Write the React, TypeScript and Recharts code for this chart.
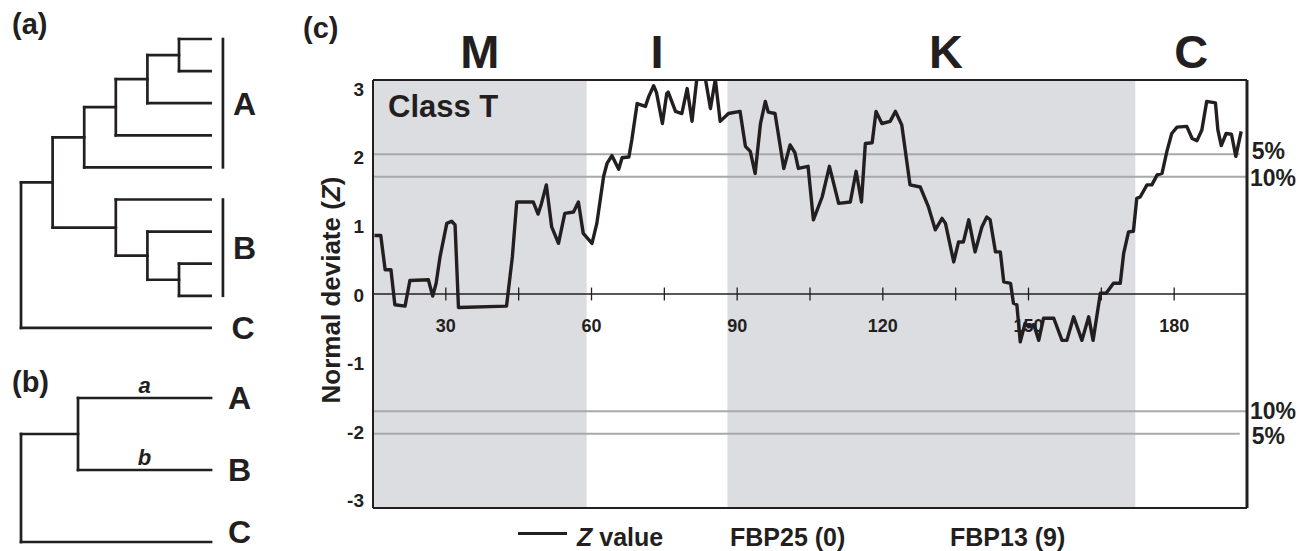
import React from "react";
import {
  ComposedChart,
  Line,
  XAxis,
  YAxis,
  ReferenceLine,
  ReferenceArea,
  ReferenceDot,
} from "recharts";

const FONT = '"Liberation Sans", Arial, Helvetica, sans-serif';
const INK = "#231f20";
const GRID = "#a7a9ac";
const SHADE = "#dcdde0";

// ---- panel (c): sliding window Z along the alignment ----
const positions = [
  15.3, 16.6, 17.5, 18.7, 19.5, 21.6, 22.6, 26.4, 27.3, 28.0, 28.8, 30.2, 31.2, 31.9, 32.6,
  42.5, 43.7, 44.6, 48.0, 49.0, 49.7, 50.7, 51.8, 53.2, 54.5, 56.3, 57.3, 58.3, 60.1, 61.1,
  62.5, 63.2, 64.2, 65.6, 66.3, 67.7, 68.3, 69.4, 71.1, 71.8, 72.8, 73.4, 74.6, 75.5, 75.8,
  77.3, 78.6, 79.7, 80.7, 81.7, 83.4, 84.5, 85.5, 86.5, 88.2, 90.6, 91.7, 92.7, 93.7, 94.8,
  95.8, 96.4, 97.8, 99.6, 100.9, 101.9, 102.6, 104.6, 105.7, 107.5, 109.0, 110.9, 113.3,
  114.5, 115.6, 116.4, 117.8, 118.6, 119.8, 121.5, 122.6, 123.9, 125.6, 127.7, 129.4, 130.8,
  132.2, 132.9, 134.6, 135.6, 136.6, 137.7, 139.0, 140.4, 141.4, 142.1, 143.2, 144.2, 144.9,
  146.3, 146.9, 147.6, 148.3, 149.3, 150.0, 151.1, 152.1, 153.1, 155.2, 156.9, 157.9, 159.3,
  161.0, 162.4, 163.3, 164.8, 166.0, 167.5, 168.9, 169.6, 170.6, 171.6, 172.3, 173.0, 174.4,
  175.4, 176.5, 177.5, 178.5, 179.5, 180.6, 182.6, 183.7, 184.7, 185.7, 186.7, 188.5, 189.0,
  189.7, 190.7, 191.8, 192.7, 193.8,
];
const zValues = [
  0.82, 0.82, 0.34, 0.34, -0.15, -0.17, 0.19, 0.2, -0.03, 0.15, 0.52, 0.99, 1.02, 0.97, -0.19,
  -0.17, 0.52, 1.29, 1.29, 1.12, 1.27, 1.53, 0.94, 0.71, 1.13, 1.15, 1.29, 0.85, 0.71, 0.99,
  1.65, 1.83, 1.94, 1.75, 1.91, 1.92, 2.16, 2.67, 2.63, 2.77, 2.92, 2.82, 2.39, 2.81, 2.83,
  2.56, 2.53, 2.88, 2.42, 3.02, 3.04, 2.6, 3.01, 2.42, 2.53, 2.56, 2.07, 2.0, 1.69, 2.39,
  2.7, 2.55, 2.53, 1.76, 2.09, 1.98, 1.76, 1.79, 1.04, 1.36, 1.79, 1.27, 1.29,
  1.72, 1.29, 2.11, 2.12, 2.56, 2.39, 2.42, 2.56, 2.37, 1.53, 1.5, 1.22, 0.9,
  1.06, 0.99, 0.45, 0.73, 0.73, 1.04, 0.59, 0.94, 1.08, 1.04, 0.59, 0.59, 0.17,
  0.15, -0.13, -0.15, -0.67, -0.41, -0.46, -0.43, -0.65, -0.34, -0.34, -0.65, -0.65, -0.32,
  -0.65, -0.32, -0.65, 0.01, 0.01, 0.15, 0.15, 0.57, 0.87, 0.88, 1.34, 1.36, 1.53,
  1.53, 1.67, 1.69, 2.0, 2.25, 2.34, 2.35, 2.18, 2.15, 2.3, 2.7, 2.68, 2.3,
  2.08, 2.25, 2.24, 1.93, 2.28,
];
const xTicks = [30, 45, 60, 75, 90, 105, 120, 135, 150, 165, 180];
const xTickLabels = [30, 60, 90, 120, 150, 180];
const yTicks = [-3, -2, -1, 0, 1, 2, 3];
const regionNames = ["M", "I", "K", "C"];
const regionLabelAt = [37, 73.5, 133, 183.5];
const shadedFrom = [15, 88];
const shadedTo = [59, 172];
const criticalZ = [1.96, 1.645, -1.645, -1.96];
const criticalLabels = ["5%", "10%", "10%", "5%"];
const criticalEnd = [193.5, 195, 195, 193.5];
const legendItems = ["FBP25 (0)", "FBP13 (9)"];

// ---- panel (a) and (b) trees ----
type TreeNode = { id: string; x: number; children: string[] };

const treeALeaves = ["L0", "L1", "L2", "L3", "L4", "L5", "L6", "L7", "L8", "L9"];
const treeANodes: TreeNode[] = [
  { id: "n1", x: 5, children: ["L0", "L1"] },
  { id: "n2", x: 4, children: ["n1", "L2"] },
  { id: "n3", x: 3, children: ["n2", "L3"] },
  { id: "n4", x: 2, children: ["n3", "L4"] },
  { id: "n5", x: 5, children: ["L7", "L8"] },
  { id: "n6", x: 4, children: ["L6", "n5"] },
  { id: "n7", x: 3, children: ["L5", "n6"] },
  { id: "n8", x: 1, children: ["n4", "n7"] },
  { id: "root", x: 0, children: ["n8", "L9"] },
];
const treeACladeNames = ["A", "B"];
const treeACladeFrom = [0, 5];
const treeACladeTo = [4, 8];

const treeBLeaves = ["A", "B", "C"];
const treeBNodes: TreeNode[] = [
  { id: "ab", x: 0.3, children: ["A", "B"] },
  { id: "root", x: 0, children: ["ab", "C"] },
];
const treeBBranchLabels: Record<string, string> = { A: "a", B: "b" };

function layoutTree(leaves: string[], tipX: number, nodes: TreeNode[]) {
  const pos: Record<string, { x: number; y: number }> = {};
  leaves.forEach((id, i) => (pos[id] = { x: tipX, y: i }));
  const segs: { id: string; x1: number; y1: number; x2: number; y2: number }[] = [];
  nodes.forEach((n) => {
    const ys = n.children.map((c) => pos[c].y);
    const lo = Math.min(...ys);
    const hi = Math.max(...ys);
    pos[n.id] = { x: n.x, y: (lo + hi) / 2 };
    segs.push({ id: n.id + "-v", x1: n.x, y1: lo, x2: n.x, y2: hi });
    n.children.forEach((c) =>
      segs.push({ id: c, x1: n.x, y1: pos[c].y, x2: pos[c].x, y2: pos[c].y })
    );
  });
  return segs;
}

const bigLetter = { fontSize: 32, fontWeight: 700, fill: INK };

function TreeA() {
  const segs = layoutTree(treeALeaves, 6, treeANodes);
  return (
    <ComposedChart width={300} height={350} margin={{ top: 0, right: 0, bottom: 0, left: 0 }} data={[]}>
      <XAxis type="number" dataKey="x" domain={[-0.665, 8.829]} allowDataOverflow hide />
      <YAxis type="number" domain={[-1.215, 9.688]} allowDataOverflow reversed hide />
      {segs.map((s) => (
        <ReferenceLine
          key={s.id}
          segment={[{ x: s.x1, y: s.y1 }, { x: s.x2, y: s.y2 }]}
          stroke={INK}
          strokeWidth={2.7}
          strokeLinecap="square"
        />
      ))}
      {treeACladeNames.map((name, i) => (
        <ReferenceLine
          key={"br" + name}
          segment={[{ x: 6.39, y: treeACladeFrom[i] - 0.04 }, { x: 6.39, y: treeACladeTo[i] + 0.04 }]}
          stroke={INK}
          strokeWidth={2.7}
        />
      ))}
      {treeACladeNames.map((name, i) => (
        <ReferenceDot
          key={"lb" + name}
          x={6.39}
          y={(treeACladeFrom[i] + treeACladeTo[i]) / 2}
          r={0}
          fill="none"
          stroke="none"
          label={{ value: name, position: "right", offset: 10, ...bigLetter }}
        />
      ))}
      <ReferenceDot
        x={6}
        y={9}
        r={0}
        fill="none"
        stroke="none"
        label={{ value: "C", position: "right", offset: 21, ...bigLetter }}
      />
    </ComposedChart>
  );
}

function TreeB() {
  const segs = layoutTree(treeBLeaves, 1, treeBNodes);
  return (
    <ComposedChart width={300} height={201} margin={{ top: 0, right: 0, bottom: 0, left: 0 }} data={[]}>
      <XAxis type="number" dataKey="x" domain={[-0.1105, 1.468]} allowDataOverflow hide />
      <YAxis type="number" domain={[-0.667, 2.125]} allowDataOverflow reversed hide />
      {segs.map((s) => (
        <ReferenceLine
          key={s.id}
          segment={[{ x: s.x1, y: s.y1 }, { x: s.x2, y: s.y2 }]}
          stroke={INK}
          strokeWidth={2.7}
          strokeLinecap="square"
          label={
            treeBBranchLabels[s.id]
              ? {
                  value: treeBBranchLabels[s.id],
                  position: "top",
                  offset: 5,
                  fontSize: 22,
                  fontWeight: 700,
                  fontStyle: "italic",
                  fill: INK,
                }
              : undefined
          }
        />
      ))}
      {treeBLeaves.map((name, i) => (
        <ReferenceDot
          key={"lb" + name}
          x={1}
          y={i === 2 ? 1.86 : i}
          r={0}
          fill="none"
          stroke="none"
          label={{ value: name, position: "right", offset: 17, ...bigLetter }}
        />
      ))}
    </ComposedChart>
  );
}

const YTick = (props: any) => {
  const { x, y, payload } = props;
  const v = payload.value as number;
  return (
    <text x={x} y={y + 1 + v * 2.8} textAnchor="end" dominantBaseline="central" fontSize={19} fontWeight={700} fill={INK}>
      {v}
    </text>
  );
};

const YLabel = (props: any) => {
  const vb = props.viewBox || { x: 333, y: 80, width: 40, height: 428 };
  const cx = vb.x + 7;
  const cy = vb.y + vb.height / 2 - 4;
  return (
    <text
      x={cx}
      y={cy}
      transform={`rotate(-90, ${cx}, ${cy})`}
      textAnchor="middle"
      fontSize={26}
      fontWeight={700}
      fill={INK}
    >
      Normal deviate (<tspan fontStyle="italic">Z</tspan>)
    </text>
  );
};

// small vertical nudges so the stacked 5% / 10% labels sit as in the figure
const criticalDy = [-3, 1, -1, 2];

function ZChart() {
  const data = positions.map((x, i) => ({ x, z: zValues[i] }));
  return (
    <ComposedChart width={1005} height={551} data={data} margin={{ top: 80, right: 58, bottom: 43, left: 33 }}>
      <XAxis type="number" dataKey="x" domain={[15, 195]} allowDataOverflow hide />
      <YAxis
        type="number"
        domain={[-3, 3]}
        ticks={yTicks}
        allowDataOverflow
        width={40}
        tickLine={false}
        tickSize={6}
        tickMargin={3}
        axisLine={{ stroke: INK, strokeWidth: 2 }}
        tick={YTick}
        label={YLabel}
      />
      {shadedFrom.map((x1, i) => (
        <ReferenceArea
          key={"sh" + i}
          x1={x1}
          x2={shadedTo[i]}
          y1={-3}
          y2={3}
          fill={SHADE}
          fillOpacity={1}
          stroke="none"
          label={
            i === 0
              ? { value: "Class T", position: "insideTopLeft", offset: 15, fontSize: 31, fontWeight: 700, fill: INK }
              : undefined
          }
        />
      ))}
      {criticalZ.map((z, i) => (
        <ReferenceLine
          key={"cr" + i}
          segment={[{ x: 15, y: z }, { x: criticalEnd[i], y: z }]}
          stroke={GRID}
          strokeWidth={2}
          label={{
            value: criticalLabels[i],
            position: "right",
            offset: criticalEnd[i] < 195 ? 12 : 3,
            dy: criticalDy[i],
            fontSize: 23,
            fontWeight: 700,
            fill: INK,
          }}
        />
      ))}
      <ReferenceLine y={0} stroke={INK} strokeWidth={1.3} />
      {xTicks.map((t) => (
        <ReferenceLine
          key={"tk" + t}
          segment={[{ x: t, y: -0.09 }, { x: t, y: 0.09 }]}
          stroke={INK}
          strokeWidth={1.3}
        />
      ))}
      {xTickLabels.map((t) => (
        <ReferenceDot
          key={"tl" + t}
          x={t}
          y={-0.44}
          r={0}
          fill="none"
          stroke="none"
          label={{ value: String(t), position: "center", fontSize: 18, fontWeight: 700, fill: INK }}
        />
      ))}
      {regionNames.map((name, i) => (
        <ReferenceDot
          key={"rg" + name}
          x={regionLabelAt[i]}
          y={3}
          r={0}
          fill="none"
          stroke="none"
          label={{ value: name, position: "top", offset: 12, fontSize: 47, fontWeight: 700, fill: INK }}
        />
      ))}
      <ReferenceLine y={3} stroke={INK} strokeWidth={2} />
      <ReferenceLine y={-3} stroke={INK} strokeWidth={2} />
      <ReferenceLine x={195} stroke={INK} strokeWidth={3} />
      <Line
        type="linear"
        dataKey="z"
        stroke={INK}
        strokeWidth={3.4}
        strokeLinejoin="round"
        dot={false}
        activeDot={false}
        isAnimationActive={false}
      />
    </ComposedChart>
  );
}

const abs = (left: number, top: number, extra: React.CSSProperties = {}): React.CSSProperties => ({
  position: "absolute",
  left,
  top,
  lineHeight: 1,
  fontWeight: 700,
  color: INK,
  whiteSpace: "nowrap",
  ...extra,
});

export default function App() {
  return (
    <div
      style={{
        position: "absolute",
        left: 0,
        top: 0,
        width: 1305,
        height: 551,
        background: "#fff",
        fontFamily: FONT,
        overflow: "hidden",
      }}
    >
      <div style={{ position: "absolute", left: 0, top: 0 }}>
        <TreeA />
      </div>
      <div style={{ position: "absolute", left: 0, top: 350 }}>
        <TreeB />
      </div>
      <div style={{ position: "absolute", left: 300, top: 0 }}>
        <ZChart />
      </div>

      <div style={abs(12, 10, { fontSize: 29 })}>(a)</div>
      <div style={abs(12, 368, { fontSize: 29 })}>(b)</div>
      <div style={abs(303, 14, { fontSize: 29 })}>(c)</div>

      <div style={{ position: "absolute", left: 518, top: 531.5, width: 49, height: 3, background: INK }} />
      <div style={abs(577, 524.5, { fontSize: 25 })}>
        <i>Z</i> value
      </div>
      <div style={abs(730, 524.5, { fontSize: 25 })}>{legendItems[0]}</div>
      <div style={abs(950, 524.5, { fontSize: 25 })}>{legendItems[1]}</div>
    </div>
  );
}
